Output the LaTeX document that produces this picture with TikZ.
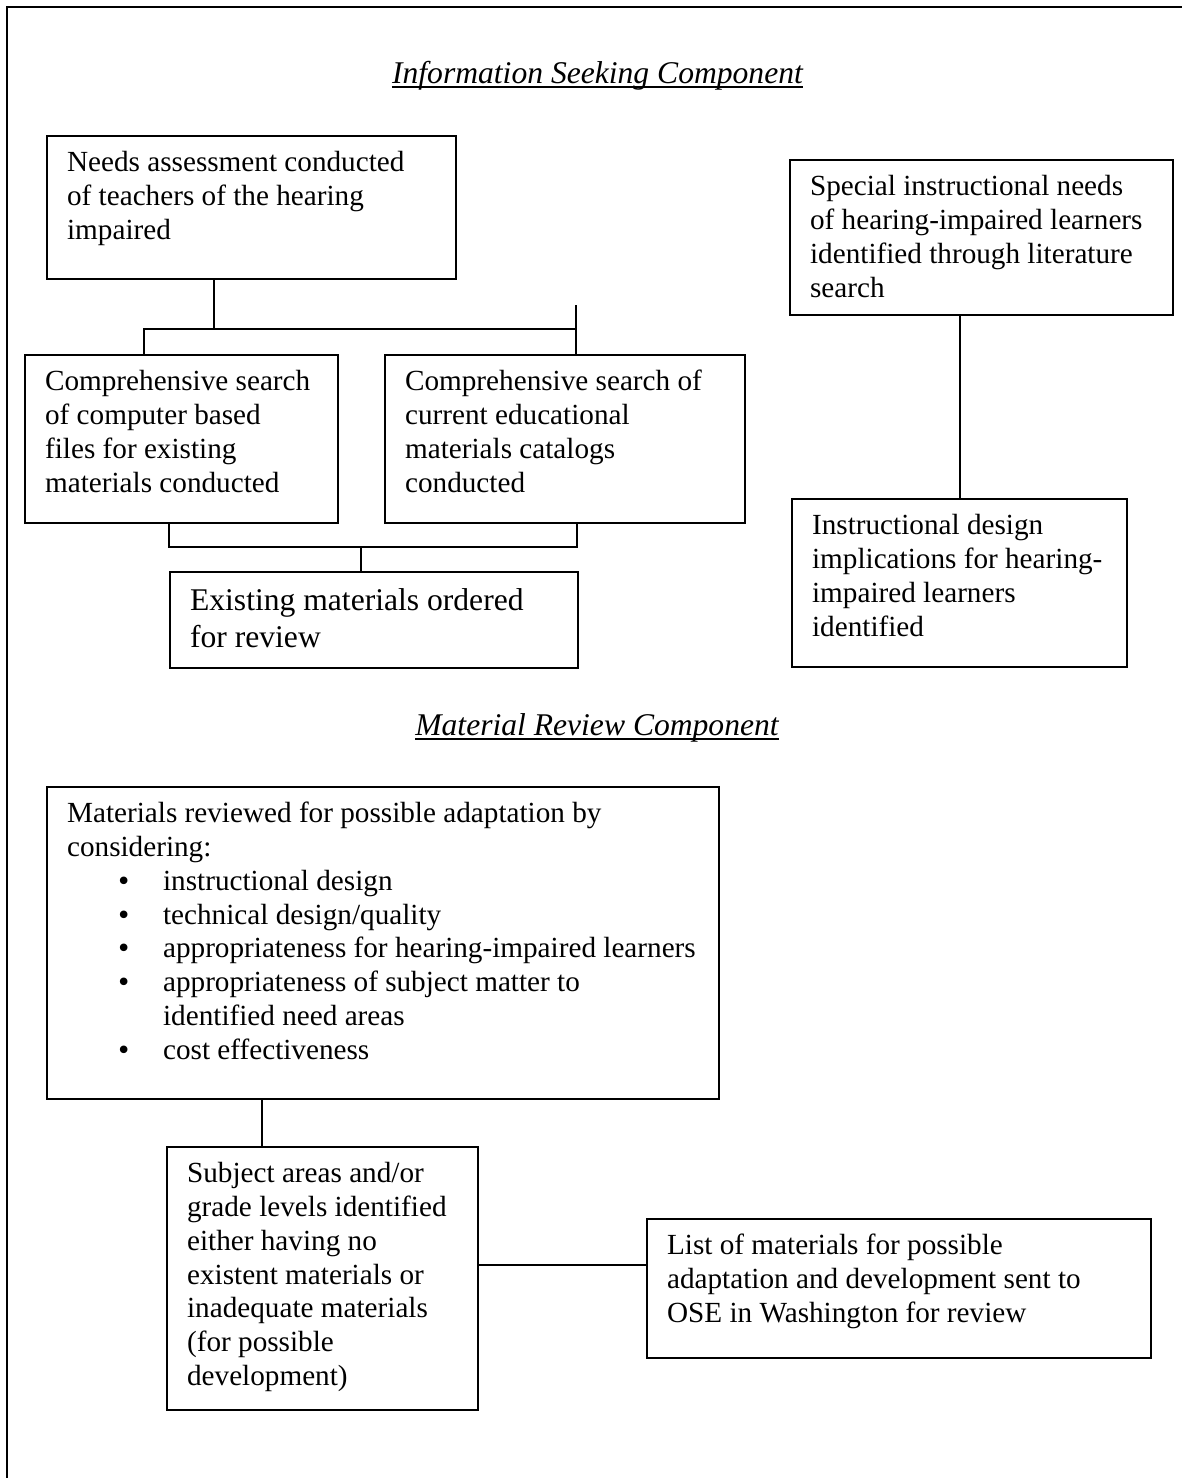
\documentclass[tikz,border=0pt]{standalone}
\usepackage{fontspec}
\setmainfont{Liberation Serif}
\newfontfamily\dotfont{DejaVu Sans}

% box text: width, height (outer, in px), lines
\newcommand{\boxtxt}[3]{\parbox[t][\dimexpr#2pt-24pt\relax][t]{\dimexpr#1pt-40pt\relax}{\raggedright\strut#3}}
\newcommand{\itm}[1]{\hspace*{49pt}\makebox[47pt][l]{{\dotfont\fontsize{26}{30}\selectfont\char"2022}}#1}

\begin{document}
\begin{tikzpicture}[
	x=1pt, y=-1pt,
	every node/.style={font=\fontsize{29.2}{33.8}\selectfont},
	box/.style={draw, line width=2.2pt, anchor=north west, inner xsep=20pt, inner ysep=12pt},
	link/.style={line width=1.9pt},
	heading/.style={anchor=base, inner sep=0pt, font=\fontsize{31.6}{37}\selectfont\itshape}
]
\useasboundingbox (0,0) rectangle (1182,1478);
\draw[line width=2.8pt] (1182,7) -- (7,7) -- (7,1478);

%/* information seeking
\node[heading] (seektitle) at (597.5,83) {Information Seeking Component};
\draw[line width=1.5pt] ([yshift=-4pt]seektitle.base west) -- ([yshift=-4pt]seektitle.base east);

\node[box] (needs) at (46,135) {\boxtxt{409}{143}{Needs assessment conducted\\of teachers of the hearing\\impaired}};
\node[box] (compsearch) at (24,354) {\boxtxt{313}{168}{Comprehensive search\\of computer based\\files for existing\\materials conducted}};
\node[box] (catsearch) at (384,354) {\boxtxt{360}{168}{Comprehensive search of\\current educational\\materials catalogs\\conducted}};
\node[box, font=\fontsize{31.6}{37}\selectfont] (ordered) at (169,571) {\boxtxt{408}{96}{Existing materials ordered\\for review}};
\node[box] (special) at (789,159) {\boxtxt{383}{155}{Special instructional needs\\of hearing-impaired learners\\identified through literature\\search}};
\node[box] (implic) at (791,498) {\boxtxt{335}{168}{Instructional design\\implications for hearing-\\impaired learners\\identified}};

\coordinate (splitM) at (214,329);
\coordinate (splitL) at (144,329);
\coordinate (splitR) at (576,329);
\coordinate (stub) at (576,305);
\draw[link] (needs.south -| splitM) -- (splitM);
\draw[link] (compsearch.north -| splitL) -- (splitL) -- (splitR);
\draw[link] (stub) -- (catsearch.north -| stub);

\coordinate (mergeL) at (169,547);
\coordinate (mergeR) at (577,547);
\coordinate (mergeM) at (361,547);
\draw[link] (compsearch.south -| mergeL) -- (mergeL) -- (mergeR) -- (catsearch.south -| mergeR);
\draw[link] (mergeM) -- (ordered.north -| mergeM);

\draw[link] (implic.north |- special.south) -- (implic.north);
%*/

%/* material review
\node[heading] (revtitle) at (597,735) {Material Review Component};
\draw[line width=1.5pt] ([yshift=-4pt]revtitle.base west) -- ([yshift=-4pt]revtitle.base east);

\node[box] (review) at (46,786) {\boxtxt{672}{312}{Materials reviewed for possible adaptation by\\considering:\\
	\itm{instructional design}\\
	\itm{technical design/quality}\\
	\itm{appropriateness for hearing-impaired learners}\\
	\itm{appropriateness of subject matter to}\\
	\hspace*{96pt}identified need areas\\
	\itm{cost effectiveness}}};
\node[box] (gaps) at (166,1146) {\boxtxt{311}{263}{Subject areas and/or\\grade levels identified\\either having no\\existent materials or\\inadequate materials\\(for possible\\development)}};
\node[box] (sendlist) at (646,1218) {\boxtxt{504}{139}{List of materials for possible\\adaptation and development sent to\\OSE in Washington for review}};

\coordinate (drop) at (262,1120);
\coordinate (bridge) at (560,1265);
\draw[link] (review.south -| drop) -- (gaps.north -| drop);
\draw[link] (gaps.east |- bridge) -- (sendlist.west |- bridge);
%*/
\end{tikzpicture}
\end{document}
